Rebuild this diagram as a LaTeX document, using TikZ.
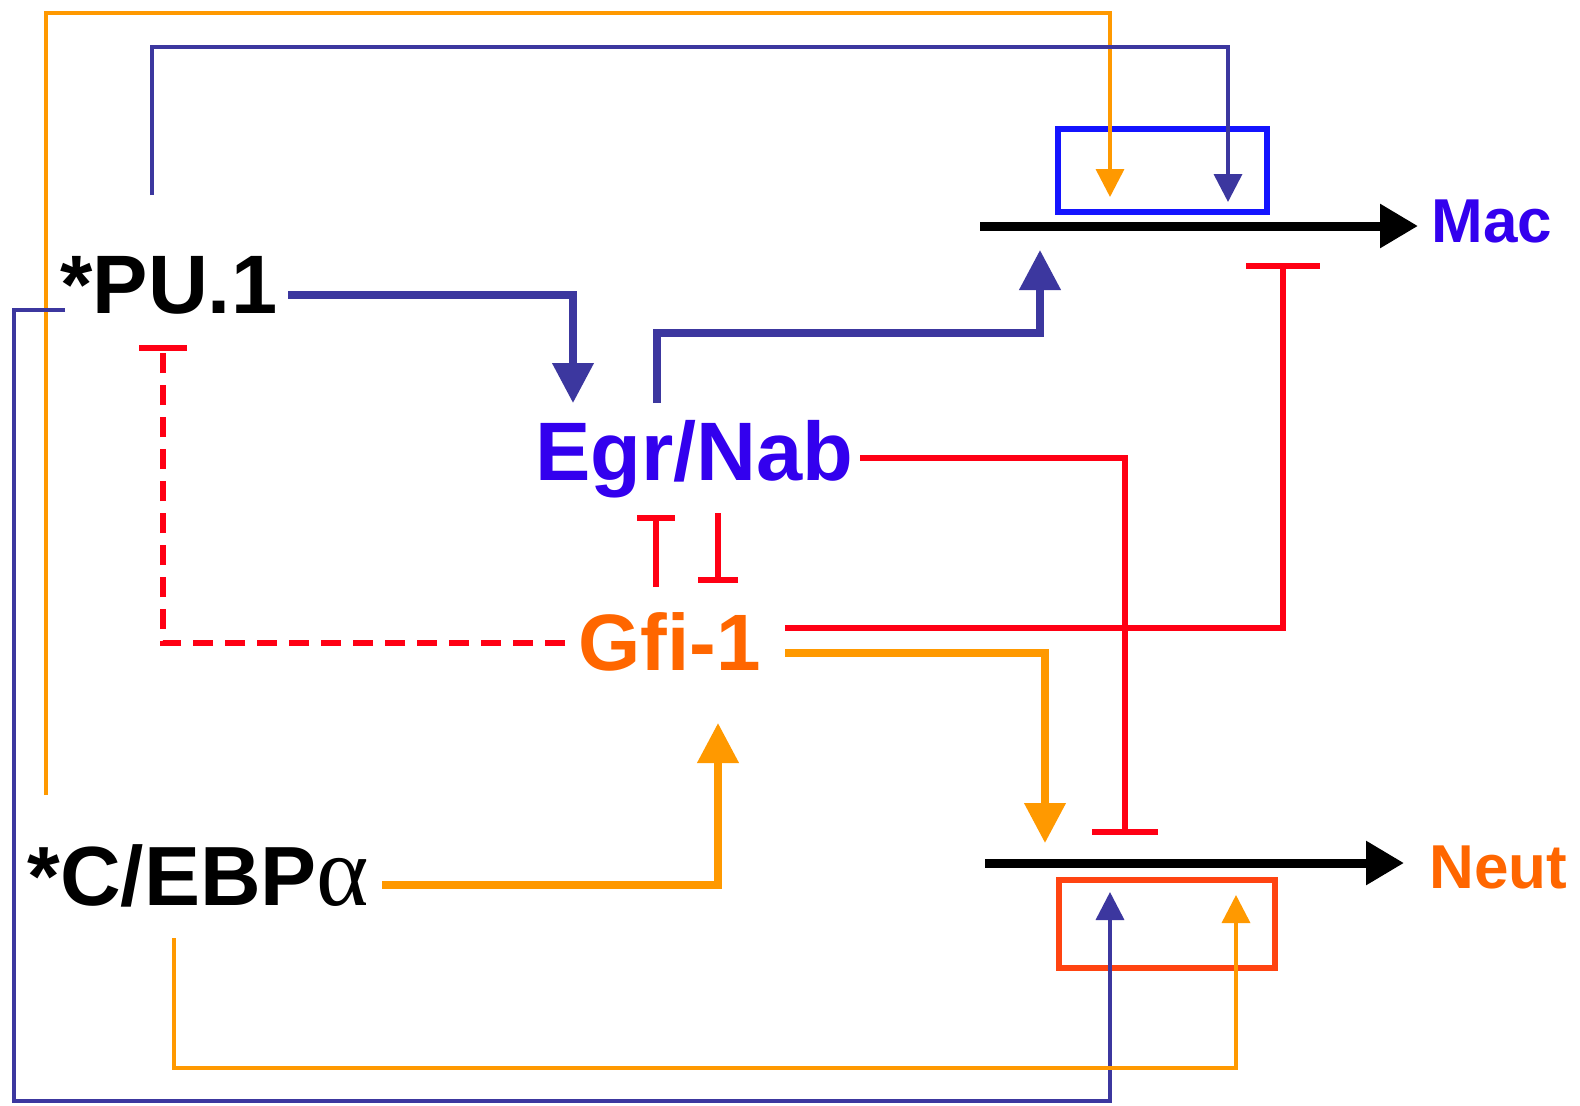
\documentclass[tikz,border=0pt]{standalone}
\usepackage{fontspec}
\setmainfont{Liberation Sans}
\newfontfamily\serifalpha{Liberation Serif}
\usetikzlibrary{arrows.meta}
\definecolor{cblue}{HTML}{3C379F}
\definecolor{corange}{HTML}{FF9900}
\definecolor{cred}{HTML}{FF0014}
\definecolor{tblue}{HTML}{3300EE}
\definecolor{torange}{HTML}{FF6600}
\definecolor{boxblue}{HTML}{1414FF}
\definecolor{boxred}{HTML}{FF4411}
\begin{document}
\begin{tikzpicture}[x=0.5pt,y=-0.5pt,
  lbl/.style={inner sep=0pt, font=\bfseries\fontsize{41.5}{46}\selectfont},
  smalllbl/.style={inner sep=0pt, font=\bfseries\fontsize{31}{36}\selectfont},
  thinblue/.style={draw=cblue, line width=1.8pt, -{Triangle[length=14pt,width=14pt]}},
  thinorange/.style={draw=corange, line width=1.8pt, -{Triangle[length=14pt,width=14pt]}},
  thickblue/.style={draw=cblue, line width=3.7pt, -{Triangle[length=20pt,width=20pt]}},
  thickorange/.style={draw=corange, line width=3.7pt, -{Triangle[length=20pt,width=20pt]}},
  blackarr/.style={draw=black, line width=4.5pt, -{Triangle[length=19pt,width=21pt]}},
  inhib/.style={draw=cred, line width=2.8pt},
  boxstyle/.style={line width=2.6pt, inner sep=0pt}]
\useasboundingbox (0,0) rectangle (1580,1105);
\fill[white] (0,0) rectangle (1580,1105);

% text nodes
\node[lbl, anchor=base west, text=black] (pu) at (60,313) {*PU.1};
\node[lbl, anchor=base west, text=tblue] (egr) at (535,480) {Egr/Nab};
\node[lbl, anchor=base west, text=torange, font=\bfseries\fontsize{40}{46}\selectfont] (gfi) at (578,670) {Gfi-1};
\node[lbl, anchor=base west, text=black, font=\bfseries\fontsize{42}{46}\selectfont] (ceb) at (27,905) {*C/EBP{\serifalpha\mdseries\fontsize{50}{54}\selectfont α}};
\node[smalllbl, anchor=base west, text=tblue] (mac) at (1431,242) {Mac};
\node[smalllbl, anchor=base west, text=torange] (neut) at (1429,888) {Neut};

% boxes
\node[boxstyle, draw=boxblue, minimum width=104.5pt, minimum height=41.5pt] (macbox) at (1162.5,170.5) {};
\node[boxstyle, draw=boxred, minimum width=108pt, minimum height=44pt] (neutbox) at (1167,924) {};

% coordinates
\coordinate (macL) at (980,226);
\coordinate (macR) at (1418,226);
\coordinate (neutL) at (985,863);
\coordinate (neutR) at (1404,863);
\coordinate (otS) at (46,795);
\coordinate (otC) at (1110,13);
\coordinate (otE) at (1110,197);
\coordinate (btS) at (152,195);
\coordinate (btC) at (1228,47);
\coordinate (btE) at (1228,202);
\coordinate (bbS) at (65,310);
\coordinate (bbA) at (14,310);
\coordinate (bbC) at (1110,1101);
\coordinate (bbE) at (1110,892);
\coordinate (obS) at (174,938);
\coordinate (obC) at (1236,1068);
\coordinate (obE) at (1236,895);
\coordinate (puS) at (288,295);
\coordinate (egrIn) at (573,403);
\coordinate (egrOut) at (657,403);
\coordinate (egrC) at (1040,333);
\coordinate (macIn) at (1040,250);
\coordinate (gfiOr) at (785,653);
\coordinate (neutIn) at (1045,843);
\coordinate (cebS) at (382,885);
\coordinate (gfiIn) at (718,723);
\coordinate (egrR) at (860,458);
\coordinate (neutBar) at (1125,835);
\coordinate (gfiR) at (785,628);
\coordinate (macBar) at (1283,263);
\coordinate (gfiL) at (565,643);
\coordinate (puBar) at (163,345);
\coordinate (tlS) at (656,587);
\coordinate (tlE) at (656,515);
\coordinate (trS) at (718,513);
\coordinate (trE) at (718,583);

% black process arrows
\draw[blackarr] (macL) -- (macR);
\draw[blackarr] (neutL) -- (neutR);

% thin long connectors
\draw[thinorange] (otS) |- (otC) -- (otE);
\draw[thinblue] (btS) |- (btC) -- (btE);
\draw[thinblue] (bbS) -- (bbA) |- (bbC) -- (bbE);
\draw[thinorange] (obS) |- (obC) -- (obE);

% thick activating arrows
\draw[thickblue] (puS) -| (egrIn);
\draw[thickblue] (egrOut) |- (egrC) -- (macIn);
\draw[thickorange] (gfiOr) -| (neutIn);
\draw[thickorange] (cebS) -| (gfiIn);

% inhibitions
\draw[inhib, -{Bar[width=33pt]}] (egrR) -| (neutBar);
\draw[inhib, -{Bar[width=37pt]}] (gfiR) -| (macBar);
\draw[inhib, dash pattern=on 10pt off 6pt, -{Bar[width=24pt]}] (gfiL) -| (puBar);
\draw[inhib, -{Bar[width=19pt]}] (tlS) -- (tlE);
\draw[inhib, -{Bar[width=20pt]}] (trS) -- (trE);
\end{tikzpicture}
\end{document}
